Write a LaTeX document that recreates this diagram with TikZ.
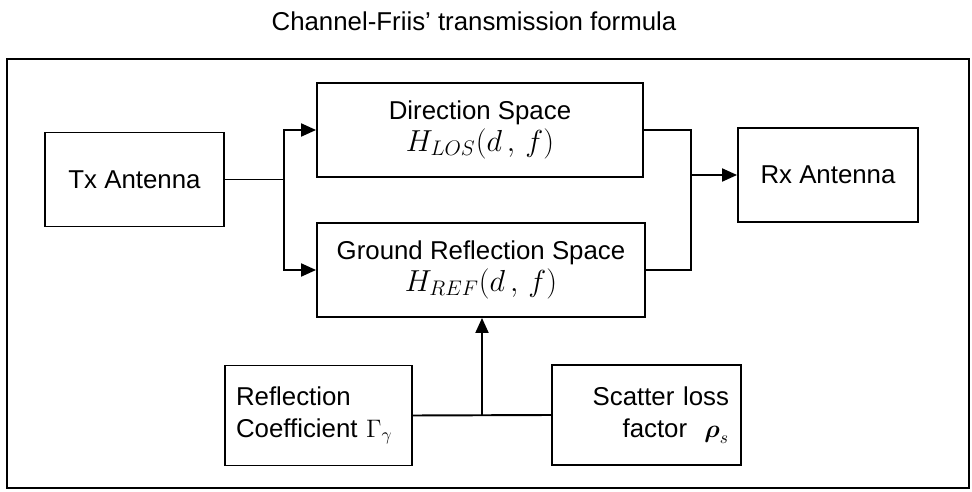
\documentclass[tikz,border=0pt]{standalone}
\usepackage{amsmath, amssymb}
\usepackage{fontspec}
\setmainfont{Liberation Sans}
\usepackage{tikz}
\usetikzlibrary{arrows.meta, calc}

\newcommand{\bigmath}[1]{{\fontsize{17.5}{20}\selectfont $#1$}}

\begin{document}
\begin{tikzpicture}[x=0.02cm, y=-0.02cm, line width=1.1pt,
    blk/.style={draw, rectangle, minimum height=1.88cm, inner sep=0pt, align=center,
        font=\fontsize{14.7}{18}\selectfont},
    arr/.style={-{Triangle[length=0.3cm, width=0.26cm]}}]
            \useasboundingbox (0,0) rectangle (972,492);
            \node[font=\fontsize{14.7}{18}\selectfont] (title) at (474,21) {Channel-Friis' transmission formula};
            \draw (7,59) rectangle (969,488);
            \node[blk, minimum width=3.58cm] (tx) at (134.5,179.5) {Tx Antenna};
            \node[blk, minimum width=6.52cm] (dir) at (480,130) {Direction Space\\ \bigmath{H_{LOS}(d\,,\,f)}};
            \node[blk, minimum width=6.56cm] (gnd) at (481,270) {Ground Reflection Space\\ \bigmath{H_{REF}(d\,,\,f)}};
            \node[blk, minimum width=3.6cm] (rx) at (828,175) {Rx Antenna};
            \node[blk, minimum width=3.74cm, minimum height=2cm, text width=3.3cm, align=left] (refl) at (318.5,415.5) {Reflection\\Coefficient $\Gamma_{\gamma}$};
            \node[blk, minimum width=3.78cm, minimum height=2cm, text width=3.3cm, align=right] (scat) at (646.5,415) {Scatter loss\\factor \ $\boldsymbol{\rho}_s$};
            \coordinate (split) at (284,179.5);
            \coordinate (merge) at (691,175);
            \coordinate (joint) at ($(refl.east)!0.5!(scat.west)$);
            \draw (tx.east) -- (split);
            \draw[arr] (split) |- (dir.west);
            \draw[arr] (split) |- (gnd.west);
            \draw (dir.east) -| (merge);
            \draw (gnd.east) -| (merge);
            \draw[arr] (merge) -- (rx.west);
            \draw (refl.east) -- (scat.west);
            \draw[arr] (joint) -- (joint |- gnd.south);
        \end{tikzpicture}
\end{document}
